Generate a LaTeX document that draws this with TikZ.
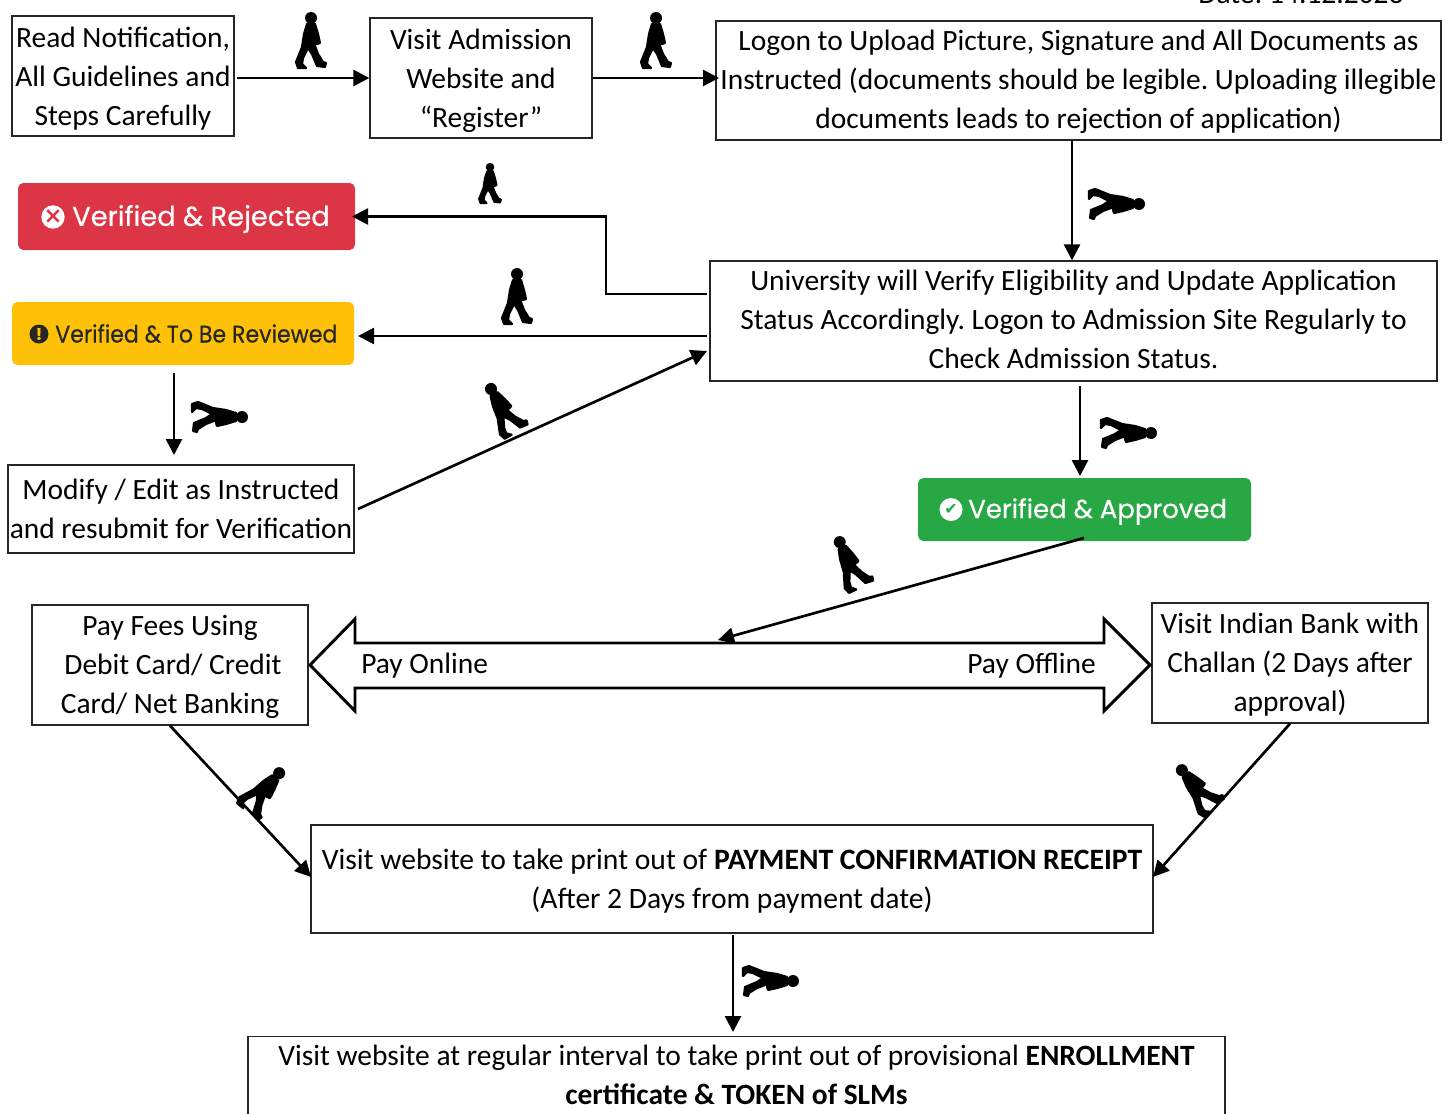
\documentclass[tikz,border=0pt]{standalone}
\usepackage{fontspec}
\setmainfont{Carlito}
\newfontfamily\badgefont[FakeBold=0.5]{Poppins}
\newfontfamily\symbolfont{DejaVu Sans}
\usetikzlibrary{arrows.meta}
\newcommand{\px}{0.75pt}
\newcommand{\pushdown}[1]{\rule{0pt}{#1pt}}
\newcommand{\pushup}[1]{\rule[-#1pt]{0pt}{0pt}}
\definecolor{rejectred}{RGB}{220,53,69}
\definecolor{reviewamber}{RGB}{255,193,7}
\definecolor{approvegreen}{RGB}{40,167,69}
\tikzset{
  stepbox/.style={draw=black!85,line width=1pt,align=center,inner sep=0pt,font=\fontsize{22.1}{29.25}\selectfont},
  badge/.style={rounded corners=4pt,inner sep=0pt,text=white,font=\badgefont\fontsize{19.5}{24}\selectfont},
  flow/.style={line width=2pt,-{Triangle[length=12pt,width=12pt]}},
  plain/.style={font=\fontsize{22.1}{29.25}\selectfont,inner sep=0pt},
  walker/.pic={
    \fill (0,22) circle (6);
    \filldraw [line width=1.6pt,line join=round] (-4,16) -- (4,16) -- (7,6) -- (9,-3) -- (6,-4) -- (4,3) -- (4,-6) -- (7,-14) -- (12,-22) -- (15,-23) -- (14,-27) -- (6,-26) -- (1,-14) -- (-3,-8) -- (-8,-18) -- (-9,-24) -- (-5,-28) -- (-13,-28) -- (-15,-22) -- (-9,-7) -- (-7,6) -- cycle;
  }
}
\begin{document}
\frenchspacing
\begin{tikzpicture}[x=0.75pt,y=0.75pt]
\useasboundingbox (0,0) rectangle (1451,-1113);
\node [plain,anchor=base] (date) at (1301,-4) {Date: 14.12.2023};
% top row
\node [stepbox,minimum width=222*\px,minimum height=120*\px] (read) at (123,-76) {\pushdown{20}Read Notification,\\All Guidelines and\\Steps Carefully};
\node [stepbox,minimum width=222*\px,minimum height=120*\px] (admission) at (481,-78) {\pushdown{20}Visit Admission\\Website and\\“Register”};
\node [stepbox,minimum width=725*\px,minimum height=119*\px] (upload) at (1078.5,-80.5) {\pushdown{18}Logon to Upload Picture, Signature and All Documents as\\Instructed (documents should be legible. Uploading illegible\\documents leads to rejection of application)};
% status
\node [stepbox,minimum width=727*\px,minimum height=120*\px] (verify) at (1073.5,-321) {University will Verify Eligibility and Update Application\\Status Accordingly. Logon to Admission Site Regularly to\\Check Admission Status.\pushup{3.3}};
\node [badge,fill=rejectred,minimum width=337*\px,minimum height=67*\px] (rejected) at (186.5,-216.5) {};
\node [badge,anchor=west,font=\badgefont\fontsize{20.5}{24}\selectfont] (rejectedtext) at (72,-219) {Verified \& Rejected};
\node [circle,fill=white,minimum size=23*\px,inner sep=0pt,text=rejectred,font=\symbolfont\bfseries\fontsize{17}{17}\selectfont] (rejectedicon) at (53,-217) {×};
\node [badge,fill=reviewamber,minimum width=342*\px,minimum height=63*\px] (reviewed) at (183,-333.5) {};
\node [badge,anchor=west,text=black!85,font=\badgefont\fontsize{18}{24}\selectfont] (reviewedtext) at (55,-333.5) {\scalebox{0.92}[1]{Verified \& To Be Reviewed}};
\node [circle,fill=black!85,minimum size=19*\px,inner sep=0pt,text=reviewamber,font=\badgefont\bfseries\fontsize{12}{12}\selectfont] (reviewedicon) at (39,-334) {!};
\node [badge,fill=approvegreen,minimum width=333*\px,minimum height=63*\px] (approved) at (1084.5,-509.5) {};
\node [badge,anchor=west] (approvedtext) at (968,-511.5) {Verified \& Approved};
\node [circle,fill=white,minimum size=23*\px,inner sep=0pt,text=approvegreen,font=\symbolfont\fontsize{12}{12}\selectfont] (approvedicon) at (951,-509.5) {✔};
\node [stepbox,minimum width=346*\px,minimum height=88*\px] (modify) at (181,-509) {Modify / Edit as Instructed\\and resubmit for Verification};
% payment
\node [stepbox,minimum width=276*\px,minimum height=120*\px] (fees) at (170,-665) {\pushdown{18}Pay Fees Using\\\hspace*{4.5pt}Debit Card/ Credit\\Card/ Net Banking};
\node [stepbox,minimum width=276*\px,minimum height=120*\px] (bank) at (1290,-663) {\pushdown{18}Visit Indian Bank with\\Challan (2 Days after\\approval)};
\draw [line width=2.2pt] (310,-665) -- (355,-619) -- (355,-643) -- (1104,-643) -- (1104,-619) -- (1150,-665) -- (1104,-711) -- (1104,-688) -- (355,-688) -- (355,-711) -- cycle;
\coordinate (payfork) at (718,-640);
\node [plain,anchor=west] (online) at (361,-665.5) {Pay Online};
\node [plain,anchor=east] (offline) at (1096,-665.5) {Pay Offline};
\node [stepbox,minimum width=842*\px,minimum height=108*\px,font=\fontsize{22.2}{29.25}\selectfont] (receipt) at (732,-879) {\pushdown{19}Visit website to take print out of \textbf{PAYMENT CONFIRMATION RECEIPT}\\(After 2 Days from payment date)};
\node [stepbox,minimum width=977*\px,minimum height=80*\px] (token) at (736.5,-1076.5) {Visit website at regular interval to take print out of provisional \textbf{ENROLLMENT}\\\textbf{certificate \& TOKEN of SLMs}\pushup{3.3}};
% connectors
\coordinate (readout) at (237,-78);
\coordinate (uploadin) at (719,-78);
\coordinate (rejectbend) at (606,-294);
\coordinate (verifyout) at (707,-294);
\coordinate (verifyleft) at (707,-336);
\coordinate (reviewin) at (358,-336);
\coordinate (modifyin) at (707,-351);
\coordinate (modifyout) at (358,-509);
\coordinate (rejectin) at (352,-216.5);
\draw [flow] (readout) -- (admission.west);
\draw [flow] (admission.east) -- (uploadin);
\draw [flow] (upload.south -| 1072,0) -- (verify.north -| 1072,0);
\draw [flow] (verifyout) -- (rejectbend) |- (rejectin);
\draw [flow] (verifyleft) -- (reviewin);
\draw [flow] (174,-373) -- (174,-455);
\draw [flow] (modifyout) -- (modifyin);
\draw [flow] (1080,-386) -- (1080,-476);
\draw [flow] (1084,-538) -- (payfork);
\draw [flow] (fees.south) -- (311,-877);
\draw [flow] (bank.south) -- (1153,-877);
\draw [flow] (733,-935) -- (733,-1032);
% walkers
\pic at (311,-40) {walker};
\pic at (656,-40) {walker};
\pic [scale=0.72] at (490,-183) {walker};
\pic at (517,-296) {walker};
\pic [rotate=-90] at (1117,-204) {walker};
\pic [rotate=-90] at (220,-417) {walker};
\pic [rotate=-90] at (1129,-433) {walker};
\pic [rotate=30] at (502,-408) {walker};
\pic [rotate=25] at (849,-562) {walker};
\pic [rotate=-40] at (265,-790) {walker};
\pic [rotate=40] at (1196,-787) {walker};
\pic [rotate=-90] at (771,-981) {walker};
\end{tikzpicture}
\end{document}
